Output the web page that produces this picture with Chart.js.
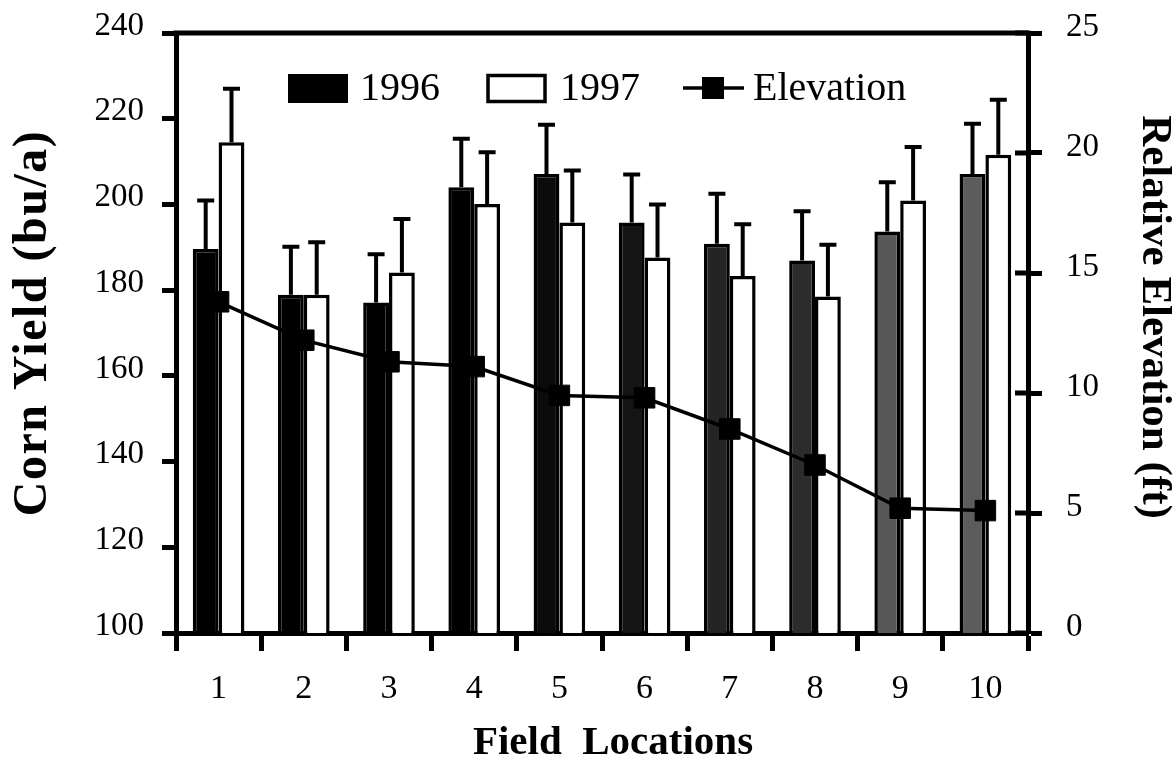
<!DOCTYPE html>
<html>
<head>
<meta charset="utf-8">
<script src="https://cdn.jsdelivr.net/npm/chart.js@4.4.1/dist/chart.umd.min.js"></script>
<style>
  html, body { margin: 0; padding: 0; background: #fff; }
  #wrap { width: 1176px; height: 765px; }
</style>
</head>
<body>
<div id="wrap"><canvas id="c" width="1176" height="765"></canvas></div>
<script>
// Field locations along the transect
const locations = ['1', '2', '3', '4', '5', '6', '7', '8', '9', '10'];

// Corn yield (bu/a) and the standard error shown above each bar
const yield1996 = [189.6, 178.9, 177.1, 204.0, 207.1, 195.8, 190.8, 186.9, 193.7, 207.1];
const err1996   = [11.3, 11.2, 11.3, 11.3, 11.5, 11.2, 11.7, 11.5, 11.5, 11.7];
const yield1997 = [214.5, 178.9, 184.1, 200.1, 195.8, 187.6, 183.3, 178.5, 200.9, 211.6];
const err1997   = [12.5, 12.3, 12.5, 12.1, 12.1, 12.4, 12.1, 12.1, 12.5, 12.8];

// Relative elevation (ft) of each location
const elevation = [13.8, 12.2, 11.3, 11.1, 9.9, 9.8, 8.5, 7.0, 5.2, 5.1];

// 1996 bars darken from gray (low ground) to black (high ground)
const shade1996 = ['#000000', '#000000', '#000000', '#000000', '#0b0b0b',
                   '#141414', '#242424', '#2c2c2c', '#585858', '#5c5c5c'];

// Axis titles
const titleX = 'Field  Locations';
const titleYLeft = 'Corn Yield (bu/a)';
const titleYRight = 'Relative Elevation (ft)';

const SERIF = '"Liberation Serif", "Times New Roman", Times, serif';
const INK = '#000000';

// Keep the plot edges where the layout puts them (no extra room for end labels)
const noEndPadding = (s) => { s.paddingTop = 0; s.paddingBottom = 0; };

// One-sided (upper) error bars drawn right after each bar dataset
const errorBars = {
  id: 'errorBars',
  afterDatasetDraw(chart, args) {
    const ds = chart.data.datasets[args.index];
    if (!ds.errors) return;
    const meta = args.meta;
    const yScale = chart.scales[meta.yAxisID];
    const ctx = chart.ctx;
    ctx.save();
    ctx.strokeStyle = INK;
    ctx.lineWidth = 4;
    ctx.lineCap = 'butt';
    meta.data.forEach((bar, i) => {
      const top = yScale.getPixelForValue(ds.data[i] + ds.errors[i]);
      ctx.beginPath();
      ctx.moveTo(bar.x, bar.y);
      ctx.lineTo(bar.x, top);
      ctx.moveTo(bar.x - 8.5, top);
      ctx.lineTo(bar.x + 8.5, top);
      ctx.stroke();
    });
    ctx.restore();
  }
};

// Frame line along the top of the plot and inward ticks on the right axis
const frame = {
  id: 'frame',
  afterDraw(chart) {
    const { ctx, chartArea } = chart;
    const yR = chart.scales.yR;
    ctx.save();
    ctx.strokeStyle = INK;
    ctx.lineWidth = 5;
    ctx.beginPath();
    ctx.moveTo(chartArea.left - 2.5, chartArea.top);
    ctx.lineTo(chartArea.right + 2.5, chartArea.top);
    ctx.stroke();
    ctx.beginPath();
    yR.ticks.forEach((t) => {
      const py = yR.getPixelForValue(t.value);
      ctx.moveTo(chartArea.right - 13, py);
      ctx.lineTo(chartArea.right, py);
    });
    ctx.stroke();
    ctx.restore();
  }
};

// Bold axis titles
const axisTitles = {
  id: 'axisTitles',
  afterDraw(chart) {
    const ctx = chart.ctx;
    ctx.save();
    ctx.fillStyle = INK;
    ctx.textAlign = 'center';
    ctx.textBaseline = 'middle';

    ctx.font = 'bold 41px ' + SERIF;
    ctx.fillText(titleX, 613, 743);

    ctx.save();
    ctx.translate(34, 323);
    ctx.rotate(-Math.PI / 2);
    ctx.font = 'bold 48px ' + SERIF;
    if ('letterSpacing' in ctx) ctx.letterSpacing = '1.5px';
    ctx.fillText(titleYLeft, 0, 0);
    ctx.restore();

    ctx.save();
    ctx.translate(1154, 317);
    ctx.rotate(Math.PI / 2);
    ctx.font = 'bold 43px ' + SERIF;
    ctx.fillText(titleYRight, 0, 0);
    ctx.restore();

    ctx.restore();
  }
};

// Legend set inside the plot area across the top
const innerLegend = {
  id: 'innerLegend',
  afterDraw(chart) {
    const ctx = chart.ctx;
    const ds = chart.data.datasets;
    const cy = 88;
    ctx.save();
    ctx.font = '40px ' + SERIF;
    ctx.textBaseline = 'middle';
    ctx.textAlign = 'left';

    // 1996 swatch
    ctx.fillStyle = INK;
    ctx.fillRect(288, 74, 60, 29);
    ctx.fillText(ds[0].label, 360, cy + 1);

    // 1997 swatch
    ctx.fillStyle = '#ffffff';
    ctx.fillRect(488, 75.5, 57, 26);
    ctx.strokeStyle = INK;
    ctx.lineWidth = 3.5;
    ctx.strokeRect(488, 75.5, 57, 26);
    ctx.fillStyle = INK;
    ctx.fillText(ds[1].label, 560, cy + 1);

    // Elevation line + marker
    ctx.lineWidth = 3.5;
    ctx.beginPath();
    ctx.moveTo(683, cy);
    ctx.lineTo(744, cy);
    ctx.stroke();
    ctx.fillRect(702, cy - 11, 22, 22);
    ctx.fillText(ds[2].label, 753, cy + 1);
    ctx.restore();
  }
};

new Chart(document.getElementById('c'), {
  type: 'bar',
  data: {
    labels: locations,
    datasets: [
      {
        label: '1996',
        data: yield1996,
        errors: err1996,
        backgroundColor: shade1996,
        borderColor: INK,
        borderWidth: 3.5,
        yAxisID: 'y',
        order: 1,
        categoryPercentage: 0.606,
        barPercentage: 1.0
      },
      {
        label: '1997',
        data: yield1997,
        errors: err1997,
        backgroundColor: '#ffffff',
        borderColor: INK,
        borderWidth: 3.5,
        yAxisID: 'y',
        order: 1,
        categoryPercentage: 0.606,
        barPercentage: 1.0
      },
      {
        type: 'line',
        label: 'Elevation',
        data: elevation,
        yAxisID: 'yR',
        order: 0,
        borderColor: INK,
        borderWidth: 3.5,
        tension: 0,
        pointStyle: 'rect',
        pointRadius: 14.5,
        pointBackgroundColor: INK,
        pointBorderColor: INK,
        pointBorderWidth: 1
      }
    ]
  },
  options: {
    responsive: false,
    devicePixelRatio: 1,
    animation: false,
    layout: { padding: { top: 33, left: 0, right: 0, bottom: 0 } },
    plugins: {
      legend: { display: false },
      tooltip: { enabled: false },
      title: { display: false }
    },
    scales: {
      x: {
        type: 'category',
        offset: true,
        afterFit: (s) => { s.height = 132; },
        grid: {
          offset: true,
          drawOnChartArea: false,
          drawTicks: true,
          tickLength: 18,
          tickWidth: 5,
          tickColor: INK
        },
        border: { display: true, color: INK, width: 5 },
        ticks: {
          color: INK,
          font: { family: SERIF, size: 34 },
          padding: 18,
          maxRotation: 0
        },
        title: { display: false }
      },
      y: {
        position: 'left',
        min: 100,
        max: 240,
        afterFit: (s) => { s.width = 176; noEndPadding(s); },
        grid: {
          drawOnChartArea: false,
          drawTicks: true,
          tickLength: 14,
          tickWidth: 5,
          tickColor: INK
        },
        border: { display: true, color: INK, width: 5 },
        ticks: {
          stepSize: 20,
          color: INK,
          font: { family: SERIF, size: 33 },
          padding: 18,
          labelOffset: -7
        },
        title: { display: false }
      },
      yR: {
        position: 'right',
        min: 0,
        max: 25,
        afterFit: (s) => { s.width = 148; noEndPadding(s); },
        grid: {
          drawOnChartArea: false,
          drawTicks: true,
          tickLength: 14,
          tickWidth: 5,
          tickColor: INK
        },
        border: { display: true, color: INK, width: 5 },
        ticks: {
          stepSize: 5,
          color: INK,
          font: { family: SERIF, size: 33 },
          padding: 24,
          labelOffset: -6
        },
        title: { display: false }
      }
    }
  },
  plugins: [errorBars, frame, axisTitles, innerLegend]
});
</script>
</body>
</html>
